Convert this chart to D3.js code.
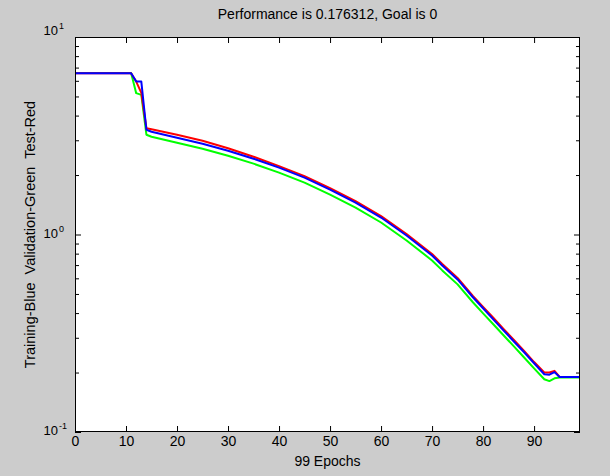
<html>
<head>
<meta charset="utf-8">
<style>
  body { margin: 0; background: #cccccc; }
  svg { display: block; }
  text { font-family: "Liberation Sans", Arial, sans-serif; fill: #000; }
</style>
</head>
<body>
<svg id="chart" width="610" height="476"></svg>

<script src="https://d3js.org/d3.v7.min.js"></script>
<script>
// values
var epochs     = [0, 11, 12, 13, 14, 15, 20, 25, 30, 35, 40, 45, 50, 55, 60, 65, 70, 72, 75, 78, 80, 82, 84, 86, 88, 90, 92, 93, 94, 95, 99];
var training   = [6.556, 6.556, 5.946, 5.946, 3.391, 3.313, 3.090, 2.882, 2.657, 2.420, 2.180, 1.941, 1.688, 1.451, 1.219, 0.988, 0.783, 0.697, 0.592, 0.481, 0.423, 0.372, 0.327, 0.288, 0.254, 0.223, 0.196, 0.195, 0.201, 0.190, 0.190];
var validation = [6.579, 6.579, 5.196, 5.094, 3.200, 3.126, 2.915, 2.719, 2.506, 2.284, 2.057, 1.830, 1.592, 1.369, 1.150, 0.933, 0.739, 0.658, 0.559, 0.454, 0.399, 0.351, 0.309, 0.272, 0.239, 0.210, 0.185, 0.181, 0.187, 0.189, 0.189];
var test       = [6.556, 6.556, 5.946, 5.213, 3.451, 3.411, 3.200, 2.984, 2.735, 2.477, 2.218, 1.975, 1.718, 1.476, 1.240, 1.006, 0.797, 0.710, 0.603, 0.489, 0.430, 0.379, 0.333, 0.293, 0.258, 0.226, 0.200, 0.200, 0.204, 0.190, 0.190];

var xTicks   = [0, 10, 20, 30, 40, 50, 60, 70, 80, 90];
var yMajor   = [0.1, 1, 10];
var yExpo    = ["-1", "0", "1"];
var yMinor   = [0.2, 0.3, 0.4, 0.5, 0.6, 0.7, 0.8, 0.9, 2, 3, 4, 5, 6, 7, 8, 9];

var titleText  = "Performance is 0.176312, Goal is 0";
var xLabelText = "99 Epochs";
var yLabelText = "Training-Blue  Validation-Green  Test-Red";

var svg = d3.select('#chart');
var pl = 75, pr = 580, pt = 37, pb = 432;

var x = d3.scaleLinear().domain([0, 99]).range([pl, pr]);
var y = d3.scaleLog().domain([0.1, 10]).range([pb, pt]);

// plot background
svg.append('rect')
    .attr('x', pl).attr('y', pt)
    .attr('width', pr - pl).attr('height', pb - pt)
    .attr('fill', 'white');

// curves: validation, test, then training on top
var line = d3.line()
    .x(function(d) { return x(d[0]); })
    .y(function(d) { return y(d[1]); });

var series = [
    {vals: validation, color: '#00ff00'},
    {vals: test, color: '#ff0000'},
    {vals: training, color: '#0000ff'}
];
series.forEach(function(s) {
    svg.append('path')
        .datum(epochs.map(function(e, i) { return [e, s.vals[i]]; }))
        .attr('d', line)
        .attr('fill', 'none')
        .attr('stroke', s.color)
        .attr('stroke-width', 2)
        .attr('stroke-linejoin', 'round');
});

// axes, ticks pointing inwards on all four sides
var gx = svg.append('g').attr('transform', 'translate(0,' + pb + ')')
    .call(d3.axisBottom(x).tickValues(xTicks).tickSize(-6).tickPadding(4).tickFormat(d3.format('d')));
svg.append('g').attr('transform', 'translate(0,' + pt + ')')
    .call(d3.axisTop(x).tickValues(xTicks).tickSize(-6).tickFormat(''));

svg.append('g').attr('transform', 'translate(' + pl + ',0)')
    .call(d3.axisLeft(y).tickValues(yMajor).tickSize(-6).tickFormat(''));
svg.append('g').attr('transform', 'translate(' + pl + ',0)')
    .call(d3.axisLeft(y).tickValues(yMinor).tickSize(-4).tickFormat(''));
svg.append('g').attr('transform', 'translate(' + pr + ',0)')
    .call(d3.axisRight(y).tickValues(yMajor).tickSize(-6).tickFormat(''));
svg.append('g').attr('transform', 'translate(' + pr + ',0)')
    .call(d3.axisRight(y).tickValues(yMinor).tickSize(-4).tickFormat(''));

svg.selectAll('.domain').remove();
svg.selectAll('.tick line').attr('stroke', '#000');
gx.selectAll('text').style('font-size', '14px').attr('fill', '#000');

// box
svg.append('rect')
    .attr('x', pl + 0.5).attr('y', pt + 0.5)
    .attr('width', pr - pl - 1).attr('height', pb - pt - 1)
    .attr('fill', 'none').attr('stroke', '#000');

// y tick labels as 10^n
yMajor.forEach(function(v, i) {
    var ty = v === 10 ? y(v) - 2 : y(v) + 3;
    svg.append('text')
        .attr('x', 58).attr('y', ty)
        .attr('text-anchor', 'end')
        .style('font-size', '13px')
        .text('10');
    svg.append('text')
        .attr('x', 59).attr('y', ty - 6)
        .style('font-size', '9px')
        .text(yExpo[i]);
});

// titles
svg.append('text')
    .attr('x', (pl + pr) / 2).attr('y', 19)
    .attr('text-anchor', 'middle')
    .style('font-size', '14px')
    .text(titleText);

svg.append('text')
    .attr('x', (pl + pr) / 2).attr('y', 466)
    .attr('text-anchor', 'middle')
    .style('font-size', '14px')
    .text(xLabelText);

svg.append('text')
    .attr('transform', 'translate(35,' + (pt + pb) / 2 + ') rotate(-90)')
    .attr('text-anchor', 'middle')
    .style('font-size', '14.5px')
    .style('white-space', 'pre')
    .text(yLabelText);
</script>
</body>
</html>
